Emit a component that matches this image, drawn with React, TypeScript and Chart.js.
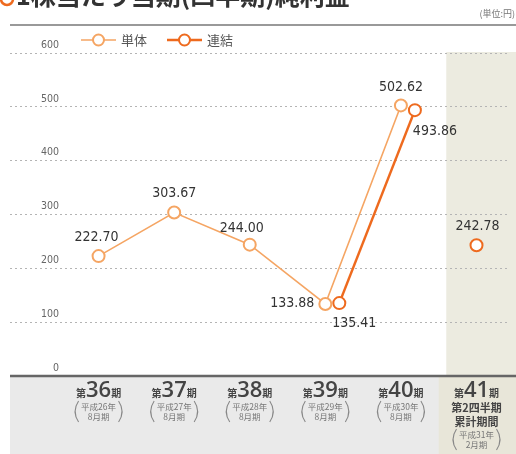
import React, { useEffect, useRef } from 'react';
import { Chart, registerables } from 'chart.js';
Chart.register(...registerables);

// ---- data ----
const periodNums = [36, 37, 38, 39, 40, 41];
const periodLabels = ['36', '37', '38', '39', '40', '41'];
const yearLabels = ['平成26年', '平成27年', '平成28年', '平成29年', '平成30年', '平成31年'];
const monthLabels = ['8月期', '8月期', '8月期', '8月期', '8月期', '2月期'];
const lastPeriodExtra = ['第2四半期', '累計期間'];
const tantaiValues = [222.7, 303.67, 244.0, 133.88, 502.62];
const renketsuValues = [null, null, null, 135.41, 493.86];
const renketsuQuarterValue = [242.78];
const yTicks = [0, 100, 200, 300, 400, 500, 600];
const seriesNames = ['単体', '連結'];
const titleText = '1株当たり当期(四半期)純利益';
const unitText = '(単位:円)';

// ---- styles ----
const LIGHT = '#f5a563';
const DARK = '#ee6a1e';
const NUM_FONT = "'Liberation Sans Narrow','Arial Narrow','DejaVu Sans Condensed',sans-serif";
const JP_FONT = "'Noto Sans CJK JP',sans-serif";
const RENKETSU_SHIFT = 0.185;

type Off = [number, number];
const tantaiLabelOffsets: Off[] = [[-2, -19], [0, -19], [-8, -16], [-33, -1], [0, -18]];
const renketsuLabelOffsets: Off[] = [[15, 20], [20, 21]];
const quarterLabelOffsets: Off[] = [[1, -19]];

export default function App() {
  const ref = useRef<HTMLCanvasElement>(null);
  useEffect(() => {
    document.body.style.margin = '0';
    const canvas = ref.current!;
    const tanData = tantaiValues.map((v, i) => ({ x: periodNums[i], y: v }));
    const renData = renketsuValues
      .map((v, i) => (v == null ? null : { x: periodNums[i] + RENKETSU_SHIFT, y: v }))
      .filter((d) => d !== null) as { x: number; y: number }[];
    const qData = renketsuQuarterValue.map((v) => ({ x: periodNums[5], y: v }));

    const decor = {
      id: 'decor',
      beforeDraw(chart: any) {
        const { ctx, width, height, chartArea } = chart;
        const xs = chart.scales.x;
        const ys = chart.scales.y;
        ctx.save();
        ctx.fillStyle = '#ffffff';
        ctx.fillRect(0, 0, width, height);
        const y0 = ys.getPixelForValue(0);
        // bottom gray band
        ctx.fillStyle = '#eaeaea';
        ctx.fillRect(chartArea.left, y0, width - chartArea.left, height - y0);
        // shaded last column
        const bx = xs.getPixelForValue(40.6);
        ctx.fillStyle = '#ecebe0';
        ctx.fillRect(bx, chartArea.top - 1, width - bx, y0 - chartArea.top + 1);
        const bx2 = xs.getPixelForValue(40.5);
        ctx.fillStyle = '#e8e6d9';
        ctx.fillRect(bx2, y0, width - bx2, height - y0);
        ctx.restore();
      },
      afterDraw(chart: any) {
        const { ctx, width, chartArea } = chart;
        const xs = chart.scales.x;
        const ys = chart.scales.y;
        ctx.save();
        // title (cut at top)
        ctx.strokeStyle = DARK;
        ctx.lineWidth = 2.5;
        ctx.beginPath();
        ctx.arc(7, -1, 6, 0, Math.PI * 2);
        ctx.stroke();
        ctx.fillStyle = '#333';
        ctx.font = `bold 25px ${JP_FONT}`;
        ctx.textAlign = 'left';
        ctx.textBaseline = 'alphabetic';
        ctx.fillText(titleText, 16, 5);
        // unit
        ctx.fillStyle = '#777';
        ctx.font = `9px ${JP_FONT}`;
        ctx.textAlign = 'right';
        ctx.textBaseline = 'middle';
        ctx.fillText(unitText, width - 1, 14);
        // top rule
        ctx.strokeStyle = '#777';
        ctx.lineWidth = 1.5;
        ctx.beginPath();
        ctx.moveTo(chartArea.left, 25);
        ctx.lineTo(width, 25);
        ctx.stroke();
        // legend
        const legend = [
          { name: seriesNames[0], color: LIGHT, x: 81 },
          { name: seriesNames[1], color: DARK, x: 167 },
        ];
        legend.forEach((l, i) => {
          ctx.strokeStyle = l.color;
          ctx.lineWidth = i === 0 ? 1.5 : 2.5;
          ctx.beginPath();
          ctx.moveTo(l.x, 40);
          ctx.lineTo(l.x + 35, 40);
          ctx.stroke();
          ctx.fillStyle = '#fff';
          ctx.lineWidth = 2;
          ctx.beginPath();
          ctx.arc(l.x + 17.5, 40, 5.5, 0, Math.PI * 2);
          ctx.fill();
          ctx.stroke();
          ctx.fillStyle = '#555';
          ctx.font = `13px ${JP_FONT}`;
          ctx.textAlign = 'left';
          ctx.textBaseline = 'middle';
          ctx.fillText(l.name, l.x + 40, 40);
        });
        // y tick labels
        ctx.fillStyle = '#666';
        ctx.font = `10.5px ${NUM_FONT}`;
        ctx.textAlign = 'right';
        ctx.textBaseline = 'middle';
        yTicks.forEach((v) => {
          ctx.fillText(String(v), 59, ys.getPixelForValue(v) - 8);
        });
        // bottom axis line
        const y0 = ys.getPixelForValue(0);
        ctx.strokeStyle = '#666';
        ctx.lineWidth = 2.5;
        ctx.beginPath();
        ctx.moveTo(chartArea.left, y0);
        ctx.lineTo(width, y0);
        ctx.stroke();
        // x labels
        periodNums.forEach((p, i) => {
          const cx = xs.getPixelForValue(p);
          const small = `bold 10px ${JP_FONT}`;
          const big = `600 22px 'Open Sans',sans-serif`;
          ctx.font = small;
          const w1 = ctx.measureText('第').width;
          const w3 = ctx.measureText('期').width;
          ctx.font = big;
          const w2 = ctx.measureText(periodLabels[i]).width;
          let x = cx - (w1 + w2 + w3) / 2;
          const base = 397;
          ctx.textAlign = 'left';
          ctx.textBaseline = 'alphabetic';
          ctx.fillStyle = '#444';
          ctx.font = small;
          ctx.fillText('第', x, base);
          x += w1;
          ctx.font = big;
          ctx.fillText(periodLabels[i], x, base);
          x += w2;
          ctx.font = small;
          ctx.fillText('期', x, base);

          let subTop = 401;
          ctx.textAlign = 'center';
          ctx.textBaseline = 'middle';
          if (i === 5) {
            ctx.fillStyle = '#444';
            ctx.font = `bold 11px ${JP_FONT}`;
            ctx.fillText(lastPeriodExtra[0], cx, 408);
            ctx.fillText(lastPeriodExtra[1], cx, 422);
            subTop = 429;
          }
          ctx.fillStyle = '#777';
          ctx.font = `8.5px ${JP_FONT}`;
          ctx.fillText(yearLabels[i], cx, subTop + 6);
          ctx.fillText(monthLabels[i], cx, subTop + 16);
          // parentheses
          ctx.strokeStyle = '#888';
          ctx.lineWidth = 1.1;
          const top = subTop;
          const bot = subTop + 21;
          const mid = (top + bot) / 2;
          ctx.beginPath();
          ctx.moveTo(cx - 20, top);
          ctx.quadraticCurveTo(cx - 27, mid, cx - 20, bot);
          ctx.moveTo(cx + 20, top);
          ctx.quadraticCurveTo(cx + 27, mid, cx + 20, bot);
          ctx.stroke();
        });
        ctx.restore();
      },
      afterDatasetsDraw(chart: any) {
        const { ctx } = chart;
        ctx.save();
        ctx.fillStyle = '#333';
        ctx.font = `14px ${NUM_FONT}`;
        ctx.textAlign = 'center';
        ctx.textBaseline = 'middle';
        chart.data.datasets.forEach((ds: any, di: number) => {
          const meta = chart.getDatasetMeta(di);
          const offs: Off[] = ds.labelOffsets;
          meta.data.forEach((pt: any, j: number) => {
            const v = ds.data[j].y;
            const o = offs[j];
            ctx.fillText(v.toFixed(2), pt.x + o[0], pt.y + o[1]);
          });
        });
        ctx.restore();
      },
    };

    const pointStyle = (c: string) => ({
      borderColor: c,
      pointBorderColor: c,
      pointBackgroundColor: '#ffffff',
      pointRadius: 6,
      pointBorderWidth: 2,
      pointHoverRadius: 6,
    });

    const chart = new Chart(canvas, {
      type: 'line',
      data: {
        datasets: [
          { label: seriesNames[1], data: renData, borderWidth: 2.5, ...pointStyle(DARK), labelOffsets: renketsuLabelOffsets } as any,
          { label: seriesNames[1], data: qData, borderWidth: 2.5, showLine: false, ...pointStyle(DARK), labelOffsets: quarterLabelOffsets } as any,
          { label: seriesNames[0], data: tanData, borderWidth: 1.6, ...pointStyle(LIGHT), labelOffsets: tantaiLabelOffsets } as any,
        ],
      },
      options: {
        responsive: false,
        devicePixelRatio: 1,
        animation: false,
        layout: { padding: { top: 53, bottom: 454 - 376, left: 10, right: 0 } },
        plugins: { legend: { display: false }, tooltip: { enabled: false } },
        scales: {
          x: { type: 'linear', display: false, min: 36 - 90 / 76.8, max: 41 + 32 / 76.8 },
          y: {
            type: 'linear',
            min: 0,
            max: 600,
            afterFit: (s: any) => { s.width = 0; },
            ticks: { display: false, stepSize: 100 },
            border: { display: false, dash: [2, 3] },
            grid: {
              drawTicks: false,
              color: (c: any) => (c.tick && c.tick.value === 0 ? 'rgba(0,0,0,0)' : '#b4b4b4'),
              lineWidth: 1,
            },
          },
        },
      },
      plugins: [decor],
    });
    return () => chart.destroy();
  }, []);
  return (
    <div style={{ width: 516, height: 454 }}>
      <canvas ref={ref} width={516} height={454} />
    </div>
  );
}
